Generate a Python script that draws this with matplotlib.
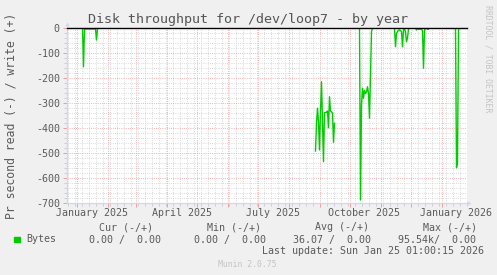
"""
Munin style yearly disk throughput graph for /dev/loop7.
"""

import matplotlib
matplotlib.use("Agg")
import matplotlib.pyplot as plt
import matplotlib.dates as mdates
import matplotlib.transforms as mtransforms
from matplotlib.patches import Rectangle
import pandas as pd

plt.rcParams["axes.unicode_minus"] = False

# --- data (daily read values, negative = read) ---
seg_starts = ["2025-01-07", "2025-08-28", "2025-10-11", "2025-11-15", "2025-12-06", "2026-01-15"]
seg_jan = [0, -155, -4, -4, -4, -4, -4, -4, -4, -4, -4, -4, -4, -4, -48, -4, 0]
seg_sep = [-492, -381, -321, -377, -488, -333, -215, -377, -535, -339,
           -338, -337, -332, -399, -275, -332, -335, -340, -457, -381]
seg_oct = [0, -688, -308, -241, -281, -249, -262, -255, -235, -262, -361, -188, -15, 0]
seg_nov = [0, -75, -21, -15, -8, -8, -10, -15, -75, -8, -5, -15, -55, -40, -5, 0]
seg_dec = [0, -8, -3, -5, -5, -5, -5, -11, -161, -8, -3, 0, -5, -5, 0]
seg_jan26 = [0, -559, -540, -8, 0]
segments = [seg_jan, seg_sep, seg_oct, seg_nov, seg_dec, seg_jan26]

x_start = "2024-12-22 12:00"
x_end = "2026-01-26 12:00"
y_ticks = [0, -100, -200, -300, -400, -500, -600, -700]
x_label_dates = ["2025-01-16", "2025-04-16", "2025-07-16", "2025-10-16", "2026-01-16"]
x_label_texts = ["January 2025", "April 2025", "July 2025", "October 2025", "January 2026"]

legend_headers = ["Cur (-/+)", "Min (-/+)", "Avg (-/+)", "Max (-/+)"]
legend_values = ["0.00 /  0.00", "0.00 /  0.00", "36.07 /  0.00", "95.54k/  0.00"]

W, H = 497, 275
FONT = "#5a5a5a"
MONO = "DejaVu Sans Mono"
GREEN = "#00CC00"
AXIS = "#CFD6F8"


def fx(px):
    return px / W


def fy(py):
    return 1 - py / H


fig = plt.figure(figsize=(W / 100, H / 100), dpi=100, facecolor="#F0F0F0")
ax = fig.add_axes([fx(67), fy(203), fx(467) - fx(67), fy(28) - fy(203)])
ax.set_facecolor("white")

ax.set_xlim(pd.Timestamp(x_start), pd.Timestamp(x_end))
ax.set_ylim(-700, 0)

# grid: red dotted on months / hundreds, grey dotted on weeks / twenties
ax.xaxis.set_major_locator(mdates.MonthLocator())
ax.xaxis.set_minor_locator(mdates.WeekdayLocator(byweekday=mdates.MO))
ax.set_yticks(y_ticks)
ax.set_yticks(range(-700, 1, 20), minor=True)
dots = (0, (0.72, 1.44))
ax.grid(True, which="minor", color="#CFCFCF", linestyle=dots, linewidth=0.72)
ax.grid(True, which="major", color="#EE9E9E", linestyle=dots, linewidth=0.72)
ax.set_axisbelow(True)
ax.tick_params(which="major", length=3, width=0.72, color="#EE9E9E", pad=2.2,
               labelsize=7.2, labelcolor=FONT)
ax.tick_params(which="minor", length=2, width=0.72, color="#CFCFCF")
ax.tick_params(axis="x", which="both", labelbottom=False)
for lab in ax.get_yticklabels():
    lab.set_family(MONO)

for s in ["top", "right"]:
    ax.spines[s].set_visible(False)
for s in ["left", "bottom"]:
    ax.spines[s].set_color(AXIS)
    ax.spines[s].set_linewidth(0.9)

# axis arrows
ax.plot([0], [1.025], marker="^", markersize=3, color=AXIS, markeredgewidth=0,
        transform=ax.transAxes, clip_on=False)
ax.plot([1.004], [0], marker=">", markersize=3, color=AXIS, markeredgewidth=0,
        transform=ax.transAxes, clip_on=False)

# data
for start, vals in zip(seg_starts, segments):
    dates = pd.date_range(start, periods=len(vals), freq="D")
    ax.plot(dates, vals, color=GREEN, linewidth=1.0)

ax.axhline(0, color="black", linewidth=1.0, clip_on=False, zorder=5)

# month labels
lab_tr = mtransforms.blended_transform_factory(ax.transData, fig.transFigure)
for d, t in zip(x_label_dates, x_label_texts):
    ax.text(pd.Timestamp(d), fy(216), t, transform=lab_tr,
            ha="center", va="baseline", fontsize=7.2, family=MONO, color=FONT)

# title and side texts
fig.text(fx(247.5), fy(23.5), "Disk throughput for /dev/loop7 - by year",
         ha="center", va="baseline", fontsize=9.6, family=MONO, color="#555555")
fig.text(fx(11), fy(115.5), "Pr second read (-) / write (+)", rotation=90,
         ha="center", va="center", fontsize=8.3, family=MONO, color=FONT)
fig.text(fx(488), fy(59), "RRDTOOL / TOBI OETIKER", rotation=270,
         ha="center", va="center", fontsize=5.9, family=MONO, color="#C4C4C4")
fig.text(fx(247), fy(267), "Munin 2.0.75", ha="center", va="baseline",
         fontsize=5.9, family=MONO, color="#C4C4C4")

# legend block
fig.patches.append(Rectangle((fx(14), fy(242)), fx(6), fy(237) - fy(242),
                             transform=fig.transFigure, color=GREEN))
fig.text(fx(26), fy(242.5), "Bytes", ha="left", va="baseline", fontsize=7.2, family=MONO, color=FONT)
header_x = [98.7, 206.7, 315, 422.7]
value_x = [89, 194.3, 293.3, 398.3]
for hx, h in zip(header_x, legend_headers):
    fig.text(fx(hx), fy(230.5), h, ha="left", va="baseline", fontsize=7.2, family=MONO, color=FONT)
for vx, v in zip(value_x, legend_values):
    fig.text(fx(vx), fy(242.5), v, ha="left", va="baseline", fontsize=7.2, family=MONO, color=FONT)
fig.text(fx(261.7), fy(254), "Last update: Sun Jan 25 01:00:15 2026", ha="left", va="baseline",
         fontsize=7.2, family=MONO, color=FONT)

fig.savefig("out.png", dpi=100, facecolor=fig.get_facecolor())
